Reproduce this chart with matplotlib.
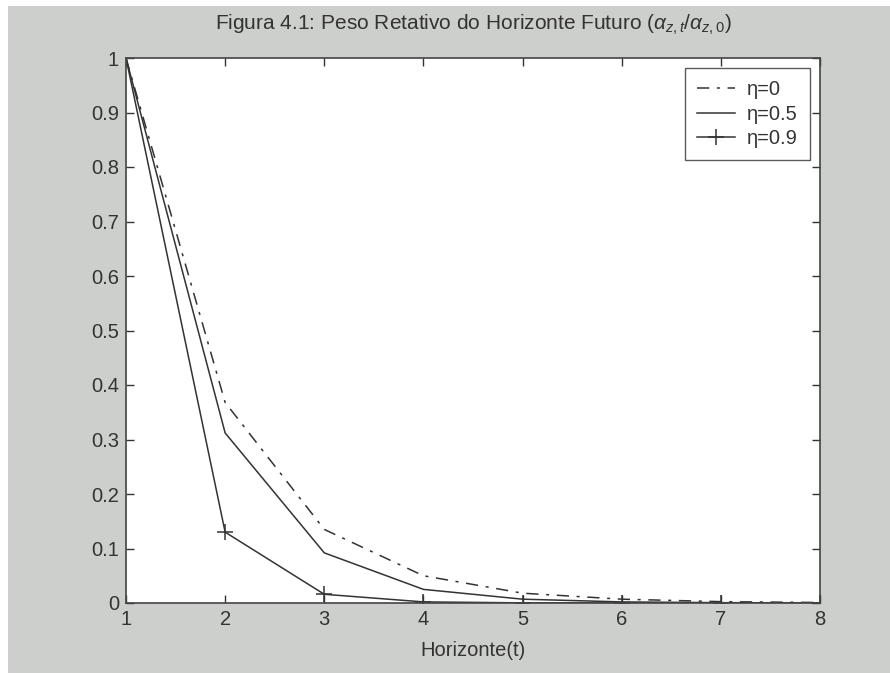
import matplotlib
matplotlib.use("Agg")
import matplotlib.pyplot as plt
from matplotlib.patches import Rectangle

horizonte = [1, 2, 3, 4, 5, 6, 7, 8]
eta0 = [1.0, 0.368, 0.135, 0.050, 0.018, 0.007, 0.0025, 0.0009]
eta05 = [1.0, 0.312, 0.092, 0.025, 0.007, 0.002, 0.0006, 0.0002]
eta09 = [1.0, 0.130, 0.016, 0.002, 0.0003, 0.00004, 0.0, 0.0]
legend_labels = ["η=0", "η=0.5", "η=0.9"]
xticks = [1, 2, 3, 4, 5, 6, 7, 8]
yticks = [0, 0.1, 0.2, 0.3, 0.4, 0.5, 0.6, 0.7, 0.8, 0.9, 1]
ytick_labels = ["0", "0.1", "0.2", "0.3", "0.4", "0.5", "0.6", "0.7", "0.8", "0.9", "1"]

plt.rcParams['font.family'] = ['Liberation Sans', 'DejaVu Sans']
plt.rcParams['mathtext.fontset'] = 'custom'
plt.rcParams['mathtext.rm'] = 'Liberation Sans'
plt.rcParams['mathtext.it'] = 'Liberation Sans:italic'
W, H = 890, 673
fig = plt.figure(figsize=(W/100, H/100), dpi=100, facecolor='white')
gray = '#cdcfcc'
fig.patches.append(Rectangle((8/W, 0), 1 - 8/W, 1 - 6/H, transform=fig.transFigure,
                             facecolor=gray, edgecolor='none', zorder=-10))

ax = fig.add_axes([126/W, 1 - 603/H, (820-126)/W, (603-58)/H])
ax.set_facecolor('white')
lc = '#333333'
ax.plot(horizonte, eta0, color=lc, lw=1.1, linestyle=(0, (8, 5, 2, 5)), label=legend_labels[0])
ax.plot(horizonte, eta05, color=lc, lw=1.1, linestyle='-', label=legend_labels[1])
ax.plot(horizonte, eta09, color=lc, lw=1.1, linestyle='-', marker='+', markersize=11,
        markeredgewidth=1.1, label=legend_labels[2])

ax.set_xlim(1, 8)
ax.set_ylim(0, 1)
ax.set_xticks(xticks)
ax.set_yticks(yticks)
ax.set_yticklabels(ytick_labels)
ax.tick_params(direction='in', length=6, width=1, top=True, right=True,
               labelsize=14.5, labelcolor='#333333', color='#333333', pad=5)
for s in ax.spines.values():
    s.set_color('#444444')
    s.set_linewidth(1.2)

fig.text(0.5 * (126 + 820) / W, 1 - 25/H,
         r"Figura 4.1: Peso Retativo do Horizonte Futuro ($\alpha_{z,t}$/$\alpha_{z,0}$)",
         fontsize=15, color='#333333', ha='center', va='center')
fig.text(0.5 * (126 + 820) / W, 1 - 650/H, "Horizonte(t)",
         fontsize=14.5, color='#333333', ha='center', va='center')

leg = ax.legend(loc='upper right', fontsize=14.5, frameon=True, fancybox=False,
                edgecolor='#333333', handlelength=1.9, handletextpad=0.6,
                borderpad=0.6, labelspacing=0.28, borderaxespad=0,
                bbox_to_anchor=(1 - 10/694, 1 - 10/545))
leg.get_frame().set_linewidth(1.0)
for t in leg.get_texts():
    t.set_color('#333333')

fig.savefig("out.png", dpi=100, facecolor=fig.get_facecolor())
